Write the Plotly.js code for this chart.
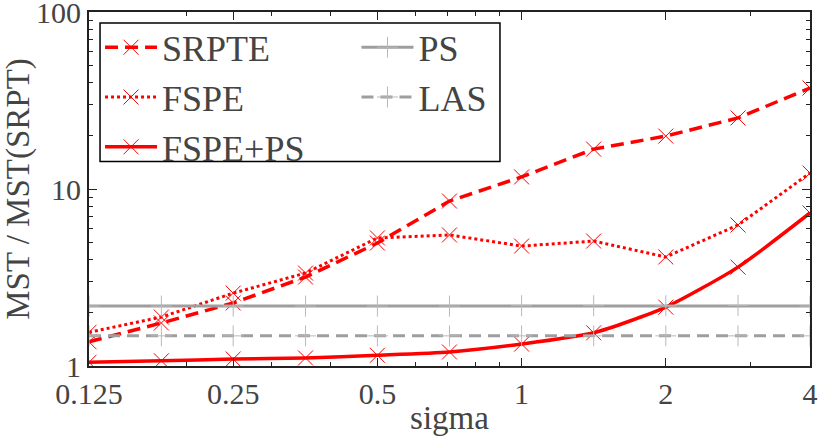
<!DOCTYPE html>
<html>
<head>
<meta charset="utf-8">
<script src="https://cdn.plot.ly/plotly-3.0.1.min.js"></script>
</head>
<body style="margin:0">
<div id="plot" style="width:818px;height:436px"></div>
<script>
// sigma values (log2 spaced)
var sigma = [0.125, 0.177, 0.25, 0.354, 0.5, 0.707, 1, 1.414, 2, 2.83, 4];

// MST / MST(SRPT)
var srpte  = [1.37, 1.75, 2.27, 3.18, 4.95, 8.55, 11.7, 16.8, 19.9, 25.2, 37.2];
var fspe   = [1.55, 1.89, 2.58, 3.35, 5.29, 5.50, 4.76, 5.08, 4.13, 6.26, 12.3];
var fspePs = [1.05, 1.07, 1.095, 1.11, 1.15, 1.20, 1.33, 1.54, 2.15, 3.62, 7.32];
var ps     = [2.18, 2.18, 2.18, 2.18, 2.18, 2.18, 2.19, 2.19, 2.19, 2.20, 2.18];
var las    = [1.48, 1.48, 1.48, 1.48, 1.48, 1.48, 1.48, 1.48, 1.48, 1.48, 1.48];

var xTicks = [0.125, 0.25, 0.5, 1, 2, 4];
var xTickText = ['0.125', '0.25', '0.5', '1', '2', '4'];
var xMinor = [0.2, 0.3, 0.4, 0.6, 0.7, 0.8, 0.9, 3];
var yTicks = [1, 10, 100];
var yTickText = ['1', '10', '100'];
var yMinor = [2, 3, 4, 5, 6, 7, 8, 9, 20, 30, 40, 50, 60, 70, 80, 90];

var red = '#ff0000';
var gray = 'rgb(158,158,158)';
var grayMark = 'rgb(185,185,185)';

var redMarker = {symbol: 'x-thin-open', size: 15, color: red, line: {color: red, width: 1}};
var grayMarker = {symbol: 'cross-thin-open', size: 15, color: grayMark, line: {color: grayMark, width: 1}};

var traces = [
  {x: sigma, y: srpte, name: 'SRPTE', type: 'scatter', mode: 'lines+markers',
   line: {color: red, width: 3.5, dash: '13px,7px'}, marker: redMarker, legend: 'legend'},
  {x: sigma, y: fspe, name: 'FSPE', type: 'scatter', mode: 'lines+markers',
   line: {color: red, width: 3, dash: 'dot'}, marker: redMarker, legend: 'legend'},
  {x: sigma, y: fspePs, name: 'FSPE+PS', type: 'scatter', mode: 'lines+markers',
   line: {color: red, width: 3.5, shape: 'spline', smoothing: 0.6}, marker: redMarker, legend: 'legend'},
  {x: sigma, y: ps, name: 'PS', type: 'scatter', mode: 'lines+markers',
   line: {color: gray, width: 3}, marker: grayMarker, legend: 'legend2'},
  {x: sigma, y: las, name: 'LAS', type: 'scatter', mode: 'lines+markers',
   line: {color: gray, width: 3, dash: '12px,7px'}, marker: grayMarker, legend: 'legend2'}
];

function legendAt(xPos) {
  return {
    x: xPos,
    y: 0.985,
    xanchor: 'left',
    yanchor: 'top',
    bgcolor: 'rgba(0,0,0,0)',
    borderwidth: 0,
    font: {family: 'Liberation Serif', size: 36},
    itemwidth: 52,
    tracegroupgap: 0
  };
}

var layout = {
  width: 818,
  height: 436,
  margin: {l: 89, r: 8, t: 12, b: 70},
  showlegend: true,
  legend: legendAt(0.0153),
  legend2: legendAt(0.371),
  xaxis: {
    type: 'log',
    range: [Math.log10(0.125), Math.log10(4)],
    tickvals: xTicks,
    ticktext: xTickText,
    ticks: 'inside',
    ticklen: 8,
    tickwidth: 1,
    tickcolor: '#222',
    minor: {tickvals: xMinor, ticks: 'inside', ticklen: 4, tickcolor: '#222', showgrid: false},
    showgrid: false,
    zeroline: false,
    showline: true,
    linecolor: '#222',
    linewidth: 2,
    mirror: 'allticks',
    ticklabeloverflow: 'allow',
    tickfont: {family: 'Liberation Serif', size: 30},
    title: {text: 'sigma', font: {family: 'Liberation Serif', size: 33}, standoff: 6}
  },
  yaxis: {
    type: 'log',
    range: [0, 2],
    tickvals: yTicks,
    ticktext: yTickText,
    ticks: 'inside',
    ticklen: 8,
    tickwidth: 1,
    tickcolor: '#222',
    minor: {tickvals: yMinor, ticks: 'inside', ticklen: 4, tickcolor: '#222', showgrid: false},
    showgrid: false,
    zeroline: false,
    showline: true,
    linecolor: '#222',
    linewidth: 2,
    mirror: 'allticks',
    ticklabeloverflow: 'allow',
    tickfont: {family: 'Liberation Serif', size: 30},
    title: {text: 'MST / MST(SRPT)', font: {family: 'Liberation Serif', size: 33}, standoff: 4}
  },
  shapes: [
    // legend frame
    {type: 'rect', xref: 'paper', yref: 'paper', layer: 'above',
     x0: 0.0153, x1: 0.57, y0: 0.578, y1: 0.969,
     line: {color: '#000', width: 1.5}, fillcolor: '#fff'}
  ]
};

Plotly.newPlot('plot', traces, layout, {staticPlot: true});
</script>
</body>
</html>
